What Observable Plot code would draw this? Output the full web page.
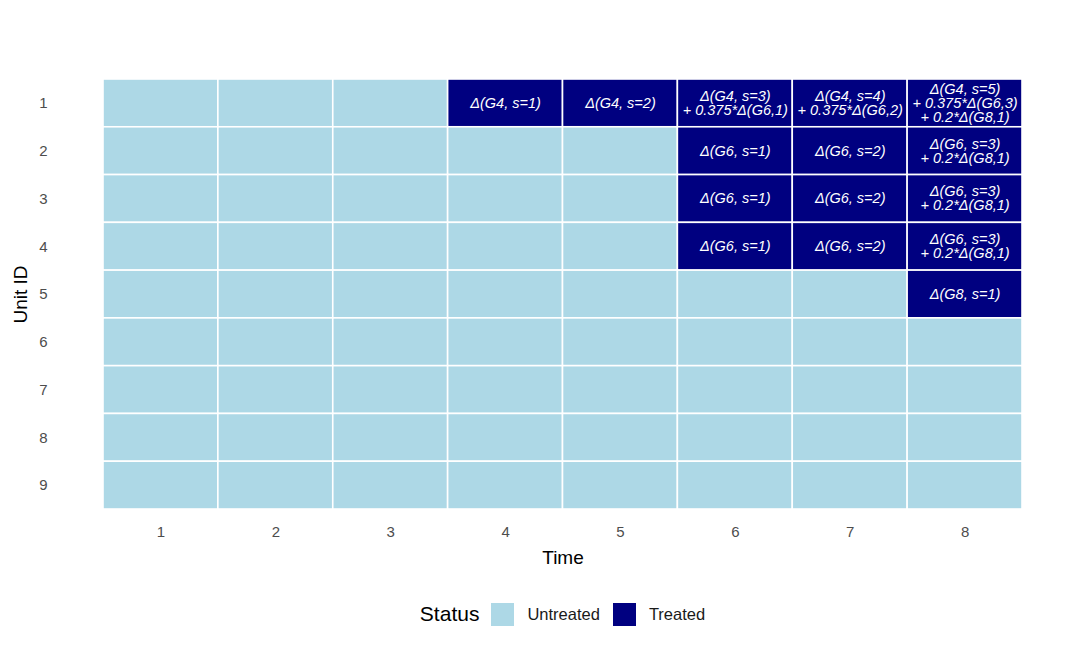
<!DOCTYPE html>
<html>
<head>
<meta charset="utf-8">
<script src="https://cdn.jsdelivr.net/npm/d3@7"></script>
<script src="https://cdn.jsdelivr.net/npm/@observablehq/plot@0.6"></script>
<style>
  html, body { margin: 0; padding: 0; background: #fff; }
  body { width: 1080px; height: 648px; font-family: "Liberation Sans", Arial, sans-serif; }
  #legend { display: flex; align-items: center; justify-content: center; height: 72px; font-size: 16.5px; color: #1a1a1a; padding-left: 58px; box-sizing: border-box; width: 1080px; }
  #legend .title { font-size: 21px; color: #000; margin-right: 12px; }
  #legend .sw { width: 23px; height: 23px; display: inline-block; margin-right: 13px; }
  #legend .lab { margin-right: 13px; }
</style>
</head>
<body>
<div id="chart"></div>
<div id="legend"></div>
<script>
const times = [1, 2, 3, 4, 5, 6, 7, 8];
const units = [1, 2, 3, 4, 5, 6, 7, 8, 9];
const statusLabels = ["Untreated", "Treated"];
const statusColors = ["#ADD8E6", "#000080"];

// treated cells: unit, time, label text
const treatedUnit = [1, 1, 1, 1, 1, 2, 2, 2, 3, 3, 3, 4, 4, 4, 5];
const treatedTime = [4, 5, 6, 7, 8, 6, 7, 8, 6, 7, 8, 6, 7, 8, 8];
const treatedText = [
  "Δ(G4, s=1)",
  "Δ(G4, s=2)",
  "Δ(G4, s=3)\n+ 0.375*Δ(G6,1)",
  "Δ(G4, s=4)\n+ 0.375*Δ(G6,2)",
  "Δ(G4, s=5)\n+ 0.375*Δ(G6,3)\n+ 0.2*Δ(G8,1)",
  "Δ(G6, s=1)",
  "Δ(G6, s=2)",
  "Δ(G6, s=3)\n+ 0.2*Δ(G8,1)",
  "Δ(G6, s=1)",
  "Δ(G6, s=2)",
  "Δ(G6, s=3)\n+ 0.2*Δ(G8,1)",
  "Δ(G6, s=1)",
  "Δ(G6, s=2)",
  "Δ(G6, s=3)\n+ 0.2*Δ(G8,1)",
  "Δ(G8, s=1)"
];

const cells = [];
for (const u of units) {
  for (const t of times) {
    const i = treatedUnit.findIndex((v, k) => v === u && treatedTime[k] === t);
    cells.push({unit: u, time: t, status: i >= 0 ? "Treated" : "Untreated", label: i >= 0 ? treatedText[i] : ""});
  }
}

const chart = Plot.plot({
  width: 1080,
  height: 578,
  marginLeft: 103,
  marginRight: 58,
  marginTop: 79,
  marginBottom: 69,
  style: {fontFamily: "Liberation Sans, Arial, sans-serif", background: "#fff"},
  x: {domain: times, padding: 0, round: false},
  y: {domain: units, padding: 0, round: false},
  color: {domain: statusLabels, range: statusColors},
  marks: [
    Plot.cell(cells, {x: "time", y: "unit", fill: "status", stroke: "white", strokeWidth: 1.6}),
    Plot.text(cells.filter(d => d.label), {x: "time", y: "unit", text: "label", fill: "white",
      fontSize: 14.5, fontStyle: "italic", lineHeight: 0.97}),
    Plot.axisX({tickSize: 0, tickPadding: 17, fontSize: 15, fill: "#4d4d4d", label: "Time",
      labelAnchor: "center", labelArrow: "none", labelOffset: 54}),
    Plot.axisY({tickSize: 0, tickPadding: 56, fontSize: 15, fill: "#4d4d4d", label: "Unit ID",
      labelAnchor: "center", labelArrow: "none", labelOffset: 90})
  ]
});
document.getElementById("chart").appendChild(chart);

chart.querySelectorAll("g[aria-label$='tick label'] text").forEach(t => {
  t.style.fontSize = "15px";
  t.style.fill = "#4d4d4d";
});
chart.querySelectorAll("g[aria-label$='axis label'] text").forEach(t => {
  t.style.fontSize = "19px";
  t.style.fill = "#000";
});

const leg = document.getElementById("legend");
leg.innerHTML = `<span class="title">Status</span>` +
  statusLabels.map((s, i) => `<span class="sw" style="background:${statusColors[i]}"></span><span class="lab">${s}</span>`).join("");
</script>
</body>
</html>
